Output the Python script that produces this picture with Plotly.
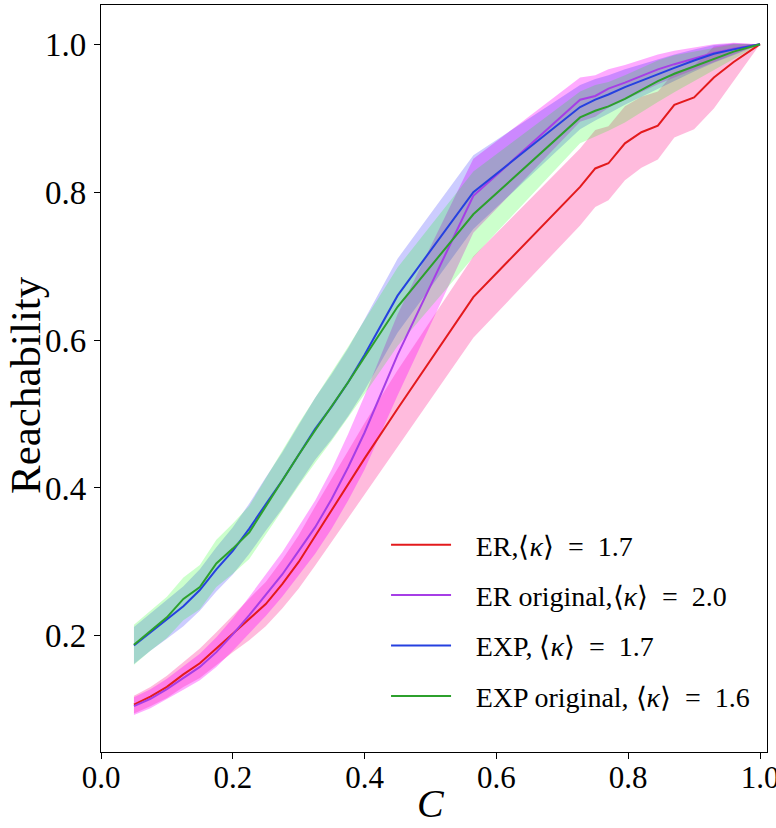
import plotly.graph_objects as go

C = [0.05, 0.075, 0.10, 0.125, 0.15, 0.175, 0.20, 0.225, 0.25, 0.275, 0.30, 0.325, 0.35, 0.375, 0.40,
     0.45, 0.565, 0.727, 0.75, 0.77, 0.795, 0.82, 0.845, 0.87, 0.90, 0.93, 0.96, 1.0]

er_mean = [0.107, 0.118, 0.131, 0.148, 0.163, 0.183, 0.203, 0.222, 0.243, 0.27, 0.30, 0.335, 0.37, 0.405, 0.44,
           0.507, 0.658, 0.807, 0.832, 0.839, 0.866, 0.881, 0.890, 0.918, 0.928, 0.955, 0.976, 1.0]
er_std = [0.012, 0.013, 0.015, 0.017, 0.02, 0.022, 0.025, 0.028, 0.03, 0.033, 0.036, 0.04, 0.043, 0.046, 0.048,
          0.052, 0.055, 0.052, 0.052, 0.05, 0.05, 0.048, 0.046, 0.044, 0.043, 0.042, 0.025, 0.0]

ero_mean = [0.105, 0.115, 0.128, 0.143, 0.158, 0.178, 0.202, 0.228, 0.255, 0.283, 0.315, 0.347, 0.385, 0.428, 0.475,
            0.58, 0.795, 0.925, 0.93, 0.94, 0.948, 0.957, 0.966, 0.973, 0.981, 0.988, 0.994, 1.0]
ero_std = [0.012, 0.013, 0.014, 0.016, 0.018, 0.02, 0.022, 0.025, 0.028, 0.03, 0.033, 0.036, 0.04, 0.045, 0.05,
           0.055, 0.05, 0.03, 0.028, 0.026, 0.024, 0.022, 0.02, 0.018, 0.015, 0.012, 0.008, 0.0]

exp_mean = [0.187, 0.205, 0.222, 0.24, 0.262, 0.29, 0.315, 0.345, 0.378, 0.41, 0.445, 0.48, 0.51, 0.543, 0.58,
            0.66, 0.80, 0.915, 0.925, 0.932, 0.942, 0.951, 0.96, 0.968, 0.978, 0.987, 0.993, 1.0]
exp_std = [0.025, 0.025, 0.026, 0.027, 0.028, 0.03, 0.032, 0.034, 0.036, 0.038, 0.04, 0.042, 0.044, 0.046, 0.048,
           0.05, 0.05, 0.03, 0.028, 0.026, 0.024, 0.022, 0.02, 0.018, 0.015, 0.012, 0.008, 0.0]

expo_mean = [0.188, 0.207, 0.225, 0.25, 0.266, 0.298, 0.318, 0.34, 0.375, 0.41, 0.445, 0.478, 0.51, 0.543, 0.577,
             0.645, 0.77, 0.901, 0.91, 0.916, 0.926, 0.938, 0.95, 0.96, 0.97, 0.981, 0.99, 1.0]
expo_std = [0.027, 0.027, 0.028, 0.029, 0.03, 0.032, 0.034, 0.036, 0.038, 0.04, 0.042, 0.044, 0.046, 0.048, 0.05,
            0.053, 0.058, 0.035, 0.035, 0.033, 0.032, 0.03, 0.028, 0.025, 0.02, 0.015, 0.01, 0.0]

eq = "\u2002=\u2002"
names = ["ER,⟨<i>κ</i>⟩" + eq + "1.7", "ER original,⟨<i>κ</i>⟩" + eq + "2.0",
         "EXP, ⟨<i>κ</i>⟩" + eq + "1.7", "EXP original, ⟨<i>κ</i>⟩" + eq + "1.6"]
x_ticks = [0.0, 0.2, 0.4, 0.6, 0.8, 1.0]
x_tick_text = ["0.0", "0.2", "0.4", "0.6", "0.8", "1.0"]
y_ticks = [0.2, 0.4, 0.6, 0.8, 1.0]
y_tick_text = ["0.2", "0.4", "0.6", "0.8", "1.0"]

line_colors = ["#e31a1c", "#a63ee6", "#2540e0", "#2ca02c"]
fill_colors = ["rgba(255,105,180,0.45)", "rgba(255,0,255,0.33)",
               "rgba(0,0,255,0.20)", "rgba(0,255,0,0.20)"]

series = [(er_mean, er_std), (ero_mean, ero_std), (exp_mean, exp_std), (expo_mean, expo_std)]

fig = go.Figure()
for (m, s), fc in zip(series, fill_colors):
    lo = [a - b for a, b in zip(m, s)]
    hi = [a + b for a, b in zip(m, s)]
    fig.add_trace(go.Scatter(x=C + C[::-1], y=hi + lo[::-1], fill="toself", fillcolor=fc,
                             line=dict(width=0), mode="lines", showlegend=False, hoverinfo="skip"))
pad = "\u00a0\u00a0\u2009"
for (m, s), name, lc, i in zip(series, names, line_colors, range(4)):
    fig.add_trace(go.Scatter(x=C, y=m, mode="lines", name=pad + name, legendgroup=f"g{i}",
                             line=dict(color=lc, width=2)))

font = "Liberation Serif, Times New Roman, serif"
fig.update_layout(
    width=776, height=828,
    margin=dict(l=101, r=9, t=5, b=76, autoexpand=False),
    plot_bgcolor="white", paper_bgcolor="white",
    font=dict(family=font, color="black"),
    showlegend=True,
    legend=dict(x=0.428, y=0.3106, xanchor="left", yanchor="top", bgcolor="rgba(0,0,0,0)",
                font=dict(family=font, size=28), tracegroupgap=11, itemwidth=60),
    xaxis=dict(range=[0, 1.0106], tickvals=x_ticks, ticktext=x_tick_text, automargin=False,
               ticks="outside", ticklen=6, tickwidth=1.2, tickcolor="black", ticklabeloverflow="allow",
               ticklabelstandoff=-8,
               showline=True, linecolor="black", linewidth=1.2, mirror=True,
               showgrid=False, zeroline=False, tickfont=dict(size=31, family=font)),
    yaxis=dict(range=[0.043, 1.053], tickvals=y_ticks, ticktext=y_tick_text, automargin=False,
               ticks="outside", ticklen=6, tickwidth=1.2, tickcolor="black", ticklabelstandoff=1,
               showline=True, linecolor="black", linewidth=1.2, mirror=True,
               showgrid=False, zeroline=False, tickfont=dict(size=33, family=font)),
    annotations=[
        dict(text="Reachability", xref="paper", yref="paper", x=-0.1126, y=0.4913,
             xanchor="center", yanchor="middle", textangle=-90, showarrow=False,
             font=dict(size=43, family=font)),
        dict(text="<i>C</i>", xref="x", yref="paper", x=0.5, y=-0.069,
             xanchor="center", yanchor="middle", showarrow=False,
             font=dict(size=40, family=font)),
    ],
)
fig.write_html("out.html", config={"displayModeBar": False},
               post_script="document.body.style.margin='0px';")
